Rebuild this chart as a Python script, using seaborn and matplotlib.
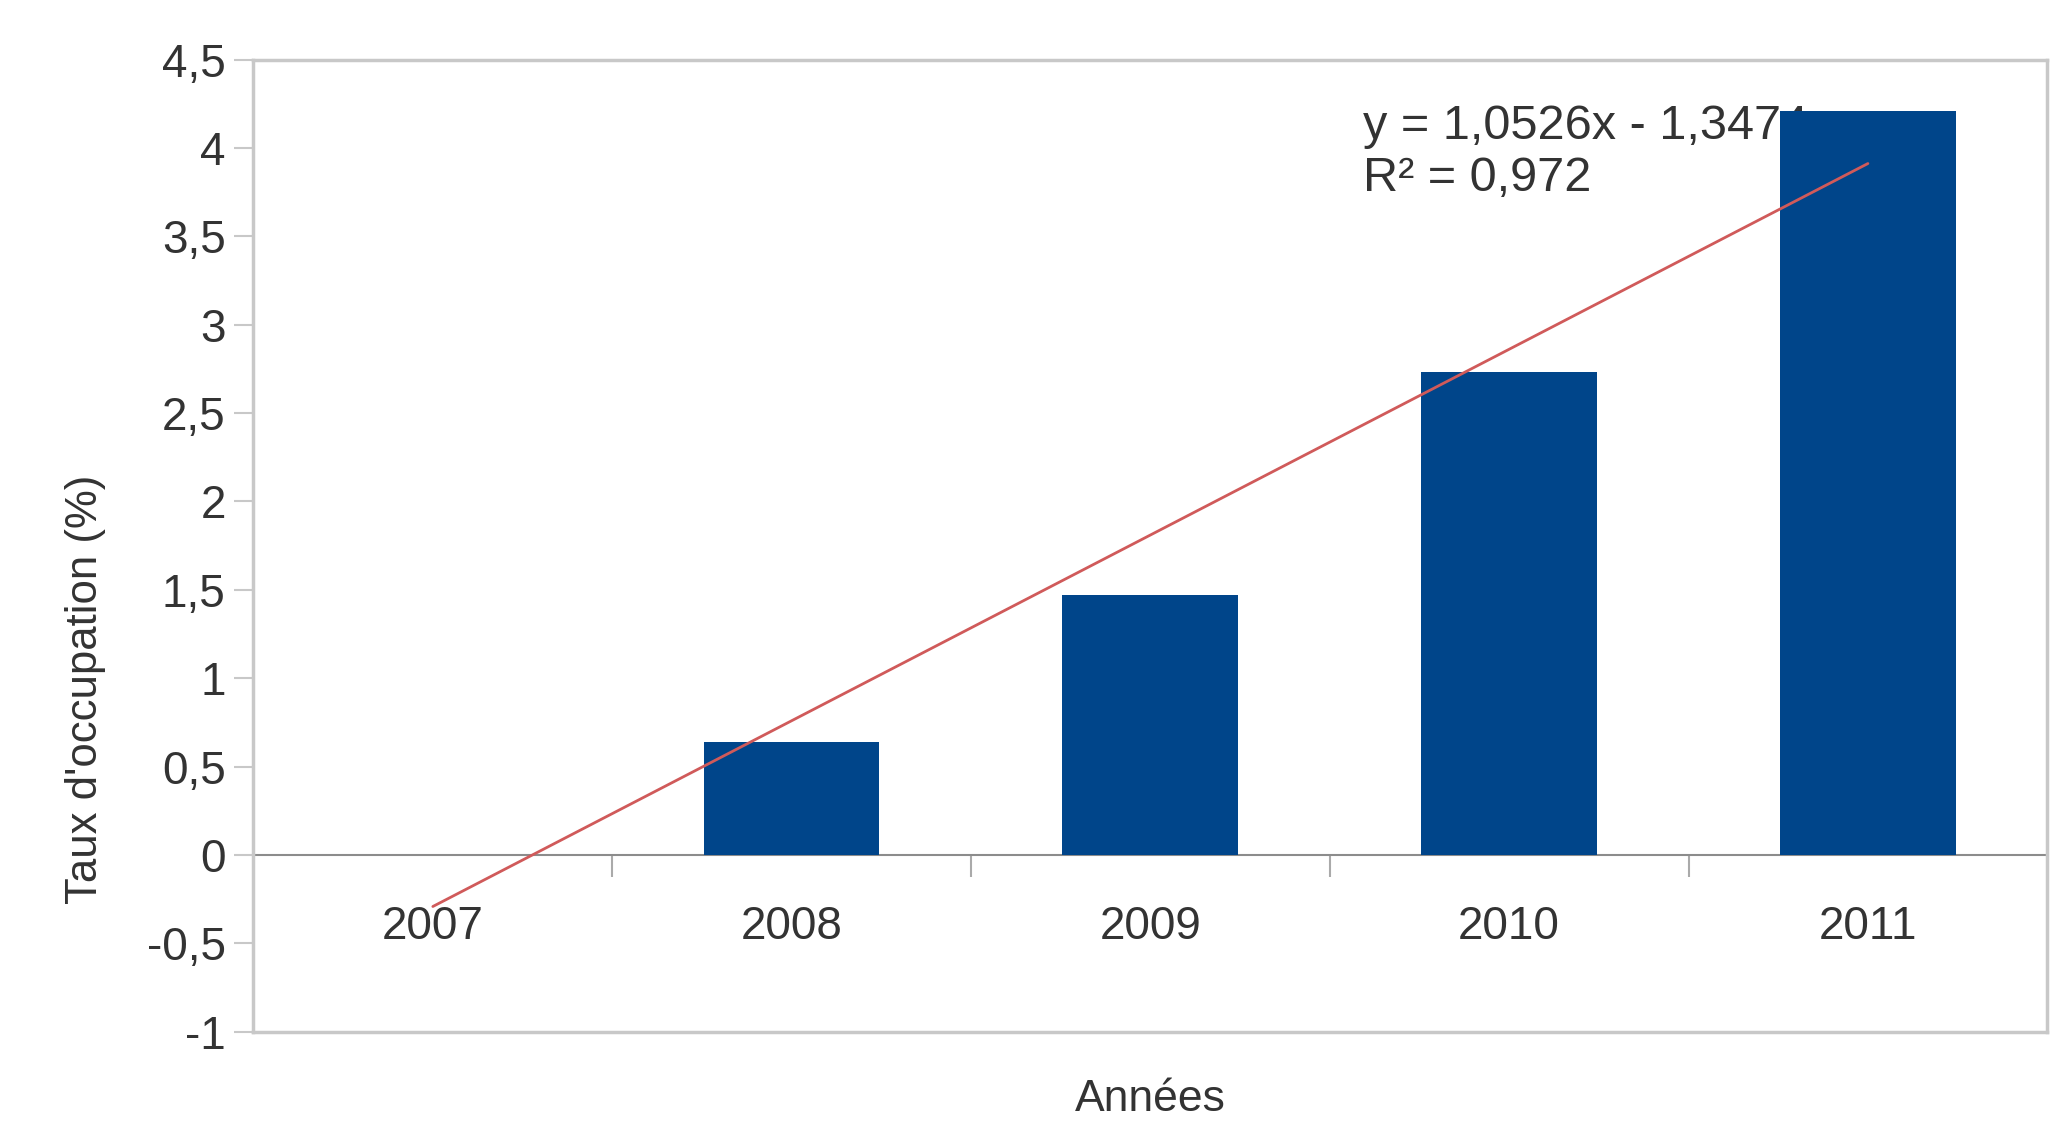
import matplotlib
matplotlib.use("Agg")
import matplotlib.pyplot as plt
import seaborn as sns
import numpy as np
import pandas as pd

years = ["2007", "2008", "2009", "2010", "2011"]
taux = [0.0, 0.64, 1.47, 2.73, 4.21]
y_ticks = [-1, -0.5, 0, 0.5, 1, 1.5, 2, 2.5, 3, 3.5, 4, 4.5]
y_tick_labels = ["-1", "-0,5", "0", "0,5", "1", "1,5", "2", "2,5", "3", "3,5", "4", "4,5"]
equation_text = "y = 1,0526x - 1,3474\nR² = 0,972"
x_label = "Années"
y_label = "Taux d'occupation (%)"

sns.set_theme(style="white")
plt.rcParams["font.family"] = ["Liberation Sans", "DejaVu Sans"]

BAR = "#00458A"
TEXT = "#333333"
FRAME = "#C8C8C8"

df = pd.DataFrame({"annee": years, "taux": taux})

fig = plt.figure(figsize=(20.69, 11.25), dpi=100)
ax = fig.add_axes([0.1225, 0.083, 0.867, 0.864])

sns.barplot(data=df, x="annee", y="taux", order=years, color=BAR,
            saturation=1, width=0.49, linewidth=0, ax=ax, zorder=2)

# linear trendline fitted on the data
pos = np.arange(len(years))
coef = np.polyfit(pos + 1, np.array(taux), 1)
fit = coef[0] * (pos + 1) + coef[1]
ax.plot(pos, fit, color="#D05A5A", lw=2, zorder=3)

ax.set_xlim(-0.5, len(years) - 0.5)
ax.set_ylim(-1, 4.5)
ax.set_yticks(y_ticks)
ax.set_yticklabels(y_tick_labels, fontsize=33, color=TEXT)
ax.tick_params(axis="y", which="major", left=True, length=14, width=1.5,
               color=FRAME, pad=6)
ax.set_xticks([])
ax.set_xlabel(x_label, fontsize=32, color=TEXT, labelpad=34)
ax.set_ylabel(y_label, fontsize=31.5, color=TEXT)
ax.yaxis.set_label_coords(-0.082, 0.352)

for s in ax.spines.values():
    s.set_color(FRAME)
    s.set_linewidth(2.5)
    s.set_visible(True)

# category axis crossing at y = 0
zero_frac = (0 - (-1)) / (4.5 - (-1))
sec = ax.secondary_xaxis(zero_frac)
sec.spines["bottom"].set_color("#8C8C8C")
sec.spines["bottom"].set_linewidth(1.5)
sec.set_xticks(np.arange(0.5, len(years) - 1, 1))
sec.set_xticklabels([])
sec.set_xticks(pos, minor=True)
sec.set_xticklabels(years, minor=True, fontsize=33, color=TEXT)
sec.tick_params(axis="x", which="major", length=16, width=1.5, color="#AAAAAA")
sec.tick_params(axis="x", which="minor", length=0, pad=36)

ax.text(2.593, 4.25, equation_text, fontsize=35, color=TEXT, va="top",
        ha="left", linespacing=1.2, zorder=1)

fig.savefig("out.png", dpi=100, facecolor="white")
